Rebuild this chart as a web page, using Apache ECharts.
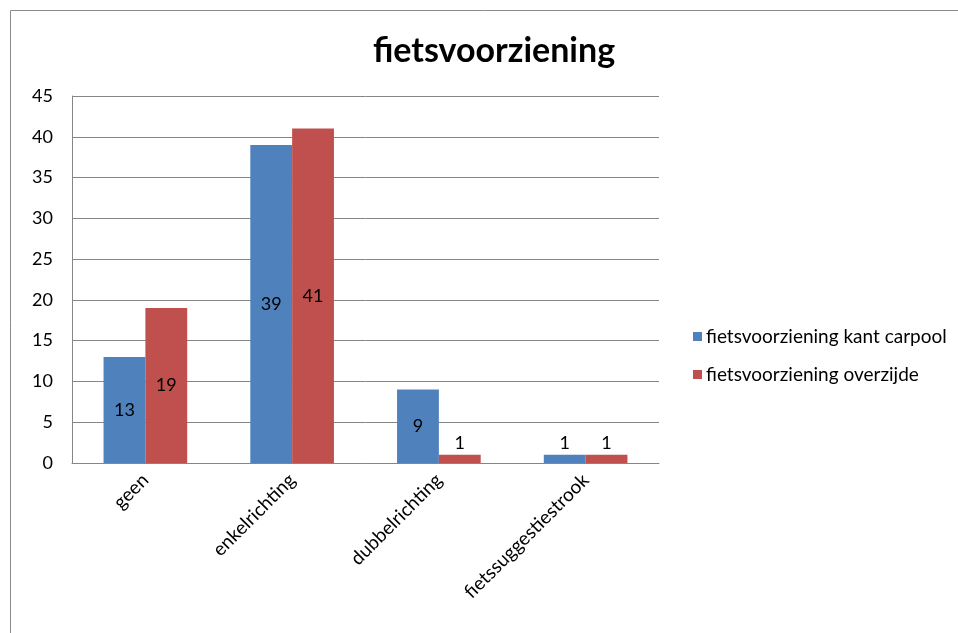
<!DOCTYPE html>
<html>
<head>
<meta charset="utf-8">
<script src="https://cdn.jsdelivr.net/npm/echarts@6/dist/echarts.min.js"></script>
<style>
  html, body { margin: 0; padding: 0; background: #fff; }
  #chart { width: 958px; height: 633px; }
</style>
</head>
<body>
<div id="chart"></div>
<script>
const categories = ['geen', 'enkelrichting', 'dubbelrichting', 'fietssuggestiestrook'];
const seriesNames = ['fietsvoorziening kant carpool', 'fietsvoorziening overzijde'];
const kantCarpool = [13, 39, 9, 1];
const overzijde = [19, 41, 1, 1];
const yTicks = [0, 5, 10, 15, 20, 25, 30, 35, 40, 45];

const FONT = 'Lato, "Open Sans", sans-serif';
const colors = ['#4F81BD', '#C0504D'];

// Short bars carry their value above the bar, taller ones in the middle.
function withLabels(values) {
  return values.map(v => ({
    value: v,
    label: { position: v < 3 ? 'top' : 'inside', distance: 3 }
  }));
}

const chart = echarts.init(document.getElementById('chart'), null, { renderer: 'canvas' });
chart.setOption({
  animation: false,
  backgroundColor: '#ffffff',
  textStyle: { fontFamily: FONT, color: '#000' },
  title: {
    text: 'fietsvoorziening',
    left: 489,
    textAlign: 'center',
    top: 29,
    textStyle: { fontFamily: FONT, fontSize: 34, fontWeight: 'bold', color: '#000' }
  },
  graphic: [{
    type: 'rect',
    shape: { x: 10.5, y: 10.5, width: 1000, height: 700 },
    style: { fill: 'none', stroke: '#8a8a8a', lineWidth: 1 },
    silent: true
  }],
  legend: {
    orient: 'vertical',
    left: 693,
    top: 327,
    padding: 0,
    itemWidth: 9,
    itemHeight: 9,
    itemGap: 19,
    icon: 'rect',
    textStyle: { fontFamily: FONT, fontSize: 19, color: '#000', padding: [0, 0, 0, -1] },
    data: seriesNames
  },
  grid: { left: 72, right: 299, top: 96, bottom: 170, containLabel: false },
  xAxis: {
    type: 'category',
    data: categories,
    axisLine: { lineStyle: { color: '#868686', width: 1 } },
    axisTick: { show: false },
    axisLabel: {
      rotate: 45,
      margin: 14,
      fontFamily: FONT,
      fontSize: 19,
      color: '#000'
    }
  },
  yAxis: {
    type: 'value',
    min: yTicks[0],
    max: yTicks[yTicks.length - 1],
    interval: 5,
    axisLine: { show: true, lineStyle: { color: '#868686', width: 1 } },
    axisTick: { show: false },
    splitLine: { lineStyle: { color: '#868686', width: 1 } },
    axisLabel: { margin: 19, fontFamily: FONT, fontSize: 18, color: '#000' }
  },
  series: [
    {
      name: seriesNames[0],
      type: 'bar',
      data: withLabels(kantCarpool),
      barGap: '0%',
      barCategoryGap: '43%',
      itemStyle: { color: colors[0] },
      label: { show: true, fontFamily: FONT, fontSize: 18, color: '#000' }
    },
    {
      name: seriesNames[1],
      type: 'bar',
      data: withLabels(overzijde),
      barGap: '0%',
      barCategoryGap: '43%',
      itemStyle: { color: colors[1] },
      label: { show: true, fontFamily: FONT, fontSize: 18, color: '#000' }
    }
  ]
});
</script>
</body>
</html>
